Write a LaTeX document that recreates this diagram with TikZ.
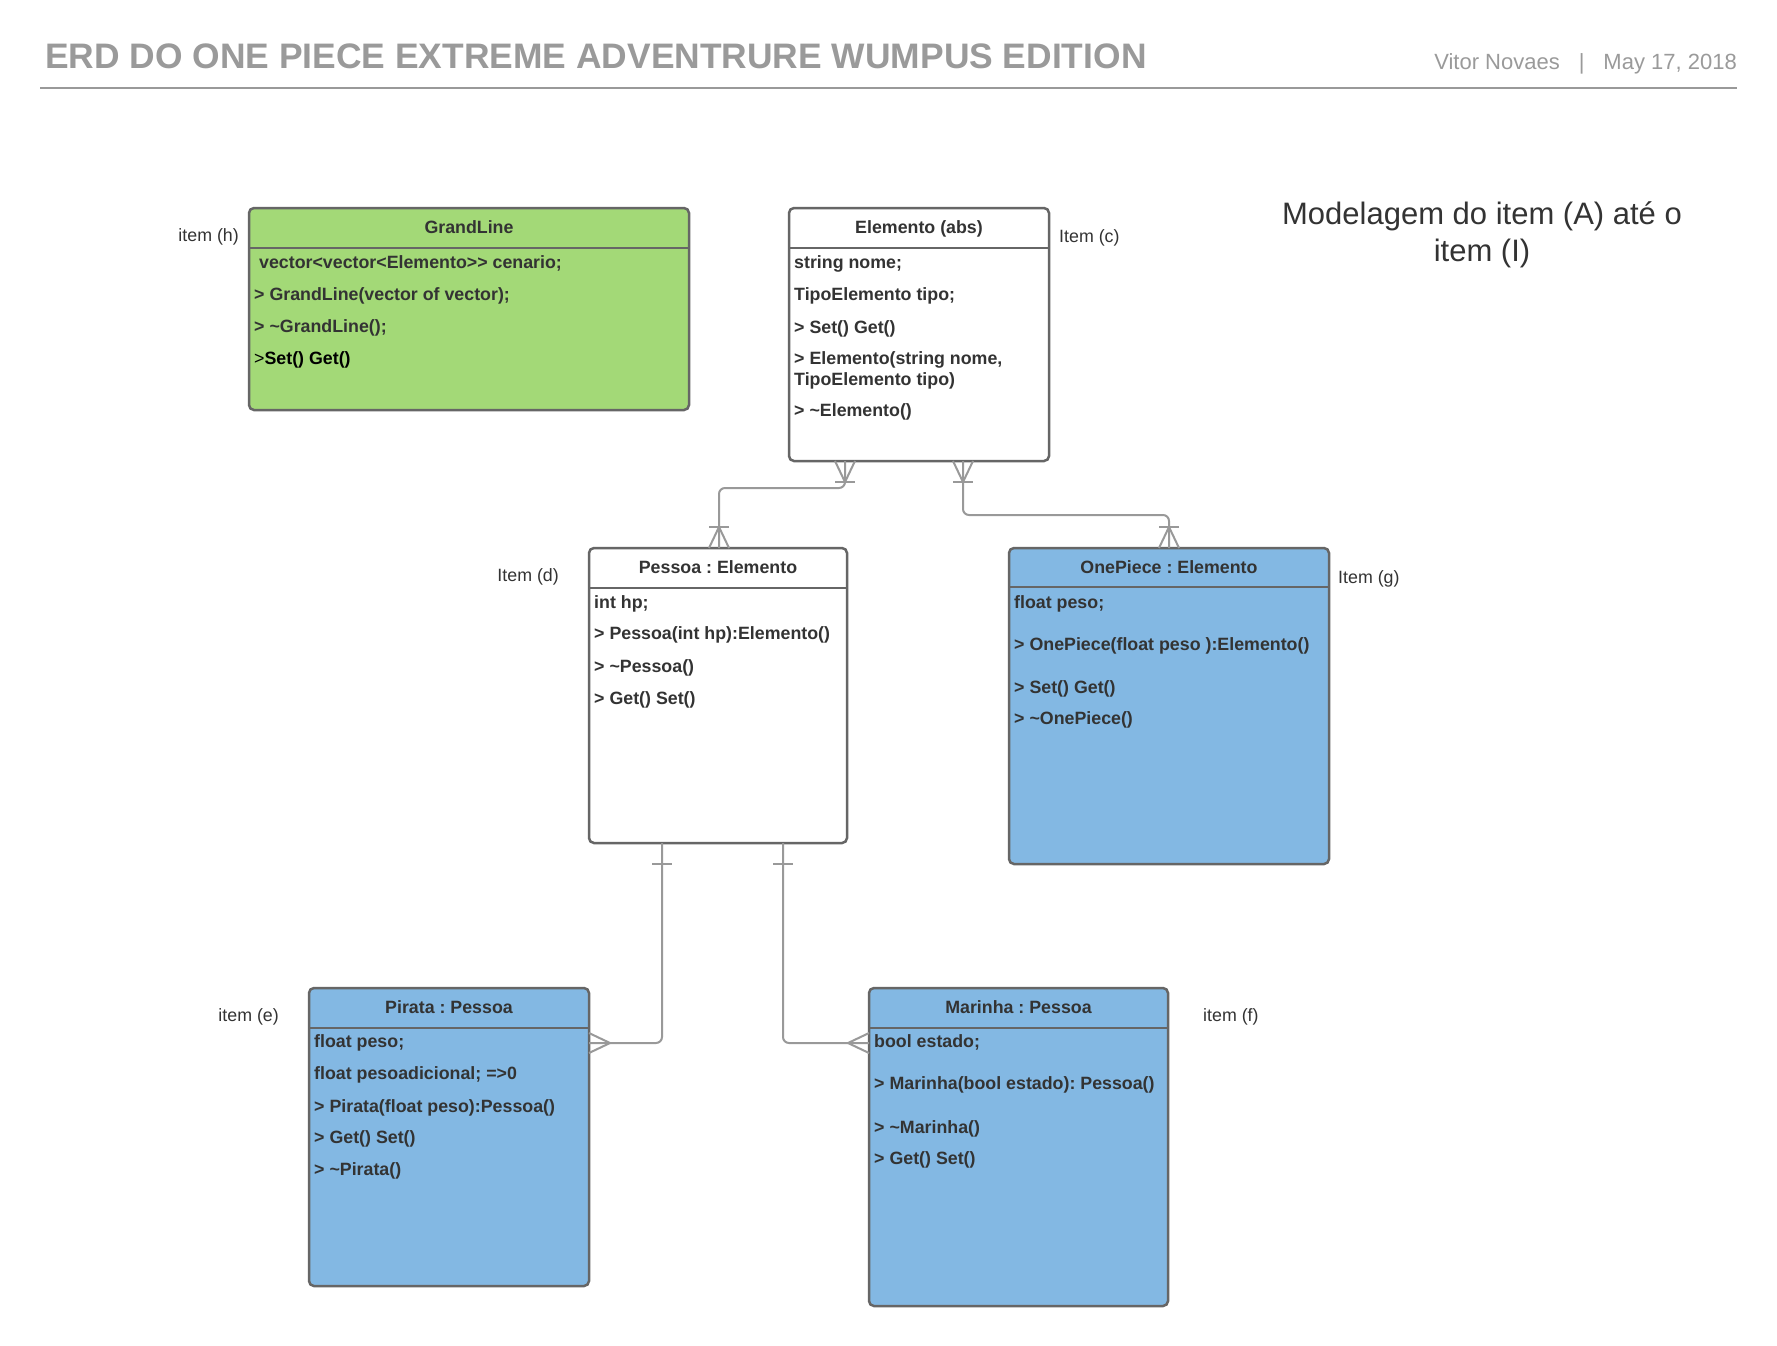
\documentclass[tikz,border=0pt]{standalone}
\usepackage{fontspec}
\setmainfont{Liberation Sans}
\usepackage{tikz}
\usetikzlibrary{calc,positioning}
\usepackage{xcolor}
\definecolor{greenfill}{HTML}{A3D977}
\definecolor{bluefill}{HTML}{83B8E3}
\definecolor{boxline}{HTML}{666666}
\definecolor{linkgray}{HTML}{999999}
\definecolor{txtdark}{HTML}{333333}
\definecolor{titlegray}{HTML}{9A9A9A}
\newcommand{\boxfont}{\fontsize{17.8}{21}\selectfont}
\frenchspacing
\tikzset{
        entity/.style = {draw=boxline, line width=2.5pt, rounded corners=5pt,
            anchor=north west, outer sep=0pt, inner sep=0pt},
        headline/.style = {draw=boxline, line width=2.5pt},
        head/.style = {anchor=base, text=txtdark, font=\boxfont\bfseries, inner sep=0pt},
        row/.style = {anchor=base west, text=txtdark, font=\boxfont\bfseries, inner sep=0pt},
        itemlbl/.style = {text=txtdark, font=\boxfont, inner sep=0pt},
        link/.style = {draw=linkgray, line width=2pt, rounded corners=6pt},
        foot/.style = {draw=linkgray, line width=2pt},
        crowmany/.pic = {\draw[foot] (-10,0) -- (0,21) -- (10,0);},
        crowone/.pic = {\draw[foot] (-10,21) -- (10,21);},
    }

\begin{document}
\begin{tikzpicture}[x=1pt,y=-1pt]
    \fill[white] (0,0) rectangle (1777,1345);
    \useasboundingbox (0,0) rectangle (1777,1345);

    % header
    \node[anchor=base west, inner sep=0pt, text=titlegray, font=\fontsize{35.4}{40}\selectfont\bfseries]
        (title) at (45,68) {ERD DO ONE PIECE EXTREME ADVENTRURE WUMPUS EDITION};
    \node[anchor=base east, inner sep=0pt, text=titlegray, font=\fontsize{22}{26}\selectfont]
        (author) at (1737,69) {Vitor Novaes\hspace{19pt}|\hspace{19pt}May 17, 2018};
    \coordinate (rulea) at (40,88);
    \coordinate (ruleb) at (1737,88);
    \draw[draw=linkgray, line width=2pt] (rulea) -- (ruleb);

    \node[anchor=north, inner sep=0pt, align=center, text=txtdark, font=\fontsize{31}{37}\selectfont]
        (note) at (1482,201) {Modelagem do item (A) até o\\item (I)};

    % entities
    \node[entity, fill=greenfill, minimum width=440pt, minimum height=202pt] (grand) at (249,208) {};
    \node[entity, fill=white, minimum width=260pt, minimum height=253pt] (elem) at (789,208) {};
    \node[entity, fill=white, minimum width=258pt, minimum height=295pt] (pessoa) at (589,548) {};
    \node[entity, fill=bluefill, minimum width=320pt, minimum height=316pt] (onepiece) at (1009,548) {};
    \node[entity, fill=bluefill, minimum width=280pt, minimum height=298pt] (pirata) at (309,988) {};
    \node[entity, fill=bluefill, minimum width=299pt, minimum height=318pt] (marinha) at (869,988) {};

    \foreach \ent in {grand,elem,pessoa,pirata,marinha}
        \draw[headline] ([yshift=-40pt]\ent.north west) -- ([yshift=-40pt]\ent.north east);
    \draw[headline] ([yshift=-39pt]onepiece.north west) -- ([yshift=-39pt]onepiece.north east);

    % GrandLine
    \node[head] (grandh) at ([yshift=-25pt]grand.north) {GrandLine};
    \node[row] (grand1) at ([xshift=5pt,yshift=-60pt]grand.north west)
        {\ vector<vector<Elemento>\kern0pt>\kern0pt\ cenario;};
    \node[row] (grand2) at ([xshift=5pt,yshift=-92pt]grand.north west) {> GrandLine(vector of vector);};
    \node[row] (grand3) at ([xshift=5pt,yshift=-124pt]grand.north west) {> \textasciitilde GrandLine();};
    \node[row, text=black] (grand4) at ([xshift=5pt,yshift=-156pt]grand.north west) {\mdseries>\bfseries Set() Get()};
    \node[itemlbl, anchor=base east] (lblh) at ([xshift=-10pt,yshift=-33pt]grand.north west) {item (h)};

    % Elemento
    \node[head] (elemh) at ([yshift=-25pt]elem.north) {Elemento (abs)};
    \node[row] (elem1) at ([xshift=5pt,yshift=-60pt]elem.north west) {string nome;};
    \node[row] (elem2) at ([xshift=5pt,yshift=-92pt]elem.north west) {TipoElemento tipo;};
    \node[row] (elem3) at ([xshift=5pt,yshift=-125pt]elem.north west) {> Set() Get()};
    \node[row] (elem4) at ([xshift=5pt,yshift=-156pt]elem.north west) {> Elemento(string nome,};
    \node[row] (elem5) at ([xshift=5pt,yshift=-177pt]elem.north west) {TipoElemento tipo)};
    \node[row] (elem6) at ([xshift=5pt,yshift=-208pt]elem.north west) {> \textasciitilde Elemento()};
    \node[itemlbl, anchor=base west] (lblc) at ([xshift=10pt,yshift=-34pt]elem.north east) {Item (c)};

    % Pessoa
    \node[head] (pessoah) at ([yshift=-25pt]pessoa.north) {Pessoa : Elemento};
    \node[row] (pessoa1) at ([xshift=5pt,yshift=-60pt]pessoa.north west) {int hp;};
    \node[row] (pessoa2) at ([xshift=5pt,yshift=-91pt]pessoa.north west) {> Pessoa(int hp):Elemento()};
    \node[row] (pessoa3) at ([xshift=5pt,yshift=-124pt]pessoa.north west) {> \textasciitilde Pessoa()};
    \node[row] (pessoa4) at ([xshift=5pt,yshift=-156pt]pessoa.north west) {> Get() Set()};
    \node[itemlbl, anchor=base east] (lbld) at ([xshift=-30pt,yshift=-33pt]pessoa.north west) {Item (d)};

    % OnePiece
    \node[head] (oneh) at ([yshift=-25pt]onepiece.north) {OnePiece : Elemento};
    \node[row] (one1) at ([xshift=5pt,yshift=-60pt]onepiece.north west) {float peso;};
    \node[row] (one2) at ([xshift=5pt,yshift=-102pt]onepiece.north west) {> OnePiece(float peso ):Elemento()};
    \node[row] (one3) at ([xshift=5pt,yshift=-145pt]onepiece.north west) {> Set() Get()};
    \node[row] (one4) at ([xshift=5pt,yshift=-176pt]onepiece.north west) {> \textasciitilde OnePiece()};
    \node[itemlbl, anchor=base west] (lblg) at ([xshift=9pt,yshift=-35pt]onepiece.north east) {Item (g)};

    % Pirata
    \node[head] (pirh) at ([yshift=-25pt]pirata.north) {Pirata : Pessoa};
    \node[row] (pir1) at ([xshift=5pt,yshift=-59pt]pirata.north west) {float peso;};
    \node[row] (pir2) at ([xshift=5pt,yshift=-91pt]pirata.north west) {float pesoadicional; =>0};
    \node[row] (pir3) at ([xshift=5pt,yshift=-124pt]pirata.north west) {> Pirata(float peso):Pessoa()};
    \node[row] (pir4) at ([xshift=5pt,yshift=-155pt]pirata.north west) {> Get() Set()};
    \node[row] (pir5) at ([xshift=5pt,yshift=-187pt]pirata.north west) {> \textasciitilde Pirata()};
    \node[itemlbl, anchor=base east] (lble) at ([xshift=-30pt,yshift=-33pt]pirata.north west) {item (e)};

    % Marinha
    \node[head] (marh) at ([yshift=-25pt]marinha.north) {Marinha : Pessoa};
    \node[row] (mar1) at ([xshift=5pt,yshift=-59pt]marinha.north west) {bool estado;};
    \node[row] (mar2) at ([xshift=5pt,yshift=-101pt]marinha.north west) {> Marinha(bool estado): Pessoa()};
    \node[row] (mar3) at ([xshift=5pt,yshift=-145pt]marinha.north west) {> \textasciitilde Marinha()};
    \node[row] (mar4) at ([xshift=5pt,yshift=-176pt]marinha.north west) {> Get() Set()};
    \node[itemlbl, anchor=base west] (lblf) at ([xshift=35pt,yshift=-33pt]marinha.north east) {item (f)};

    % connector ends
    \coordinate (ea) at ([xshift=56pt]elem.south west);
    \coordinate (eb) at ([xshift=174pt]elem.south west);
    \coordinate (pa) at ([xshift=130pt]pessoa.north west);
    \coordinate (oa) at ([xshift=160pt]onepiece.north west);
    \coordinate (pb) at ([xshift=73pt]pessoa.south west);
    \coordinate (pc) at ([xshift=194pt]pessoa.south west);
    \coordinate (ra) at ([yshift=-55pt]pirata.north east);
    \coordinate (ma) at ([yshift=-55pt]marinha.north west);

    \draw[link] (ea) -- ++(0,27) -| (pa);
    \draw[link] (eb) -- ++(0,54) -| (oa);
    \draw[link] (pb) |- (ra);
    \draw[link] (pc) |- (ma);

    % crow's feet
    \pic at (ea) {crowmany};  \pic at (ea) {crowone};
    \pic at (eb) {crowmany};  \pic at (eb) {crowone};
    \pic[rotate=180] at (pa) {crowmany};  \pic[rotate=180] at (pa) {crowone};
    \pic[rotate=180] at (oa) {crowmany};  \pic[rotate=180] at (oa) {crowone};
    \pic at (pb) {crowone};
    \pic at (pc) {crowone};
    \pic[rotate=90] at (ra) {crowmany};
    \pic[rotate=-90] at (ma) {crowmany};
\end{tikzpicture}
\end{document}
